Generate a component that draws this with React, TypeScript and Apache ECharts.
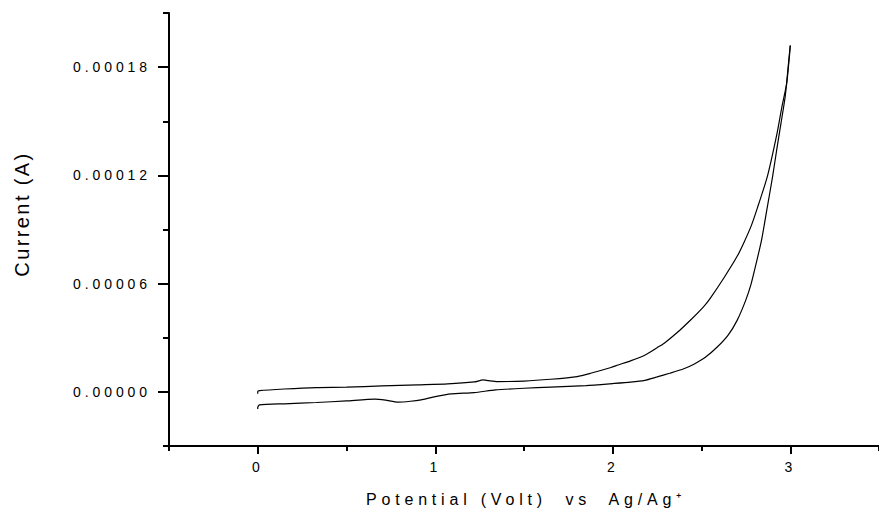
import React, { useEffect, useRef } from "react";
import * as echarts from "echarts";

// Potential (V vs Ag/Ag+) and current (A) — forward scan (lower branch)
const forwardPotential = [
  0.0, 0.0, 0.01, 0.15, 0.33, 0.5, 0.66, 0.72, 0.79, 0.86, 0.92, 1.0, 1.09, 1.22, 1.34, 1.5,
  1.65, 1.85, 2.0, 2.1, 2.18, 2.25, 2.32, 2.4, 2.46, 2.52, 2.59, 2.65, 2.7, 2.75, 2.78, 2.81,
  2.84, 2.87, 2.9, 2.925, 2.948, 2.972, 2.99, 3.0,
];
const forwardCurrent = [
  -9.5e-6, -8.5e-6, -7.2e-6, -6.6e-6, -5.9e-6, -5.0e-6, -4.0e-6, -4.6e-6, -5.7e-6, -5.2e-6,
  -4.4e-6, -2.6e-6, -1.1e-6, -0.4e-6, 1.1e-6, 2.0e-6, 2.6e-6, 3.5e-6, 4.6e-6, 5.4e-6, 6.4e-6,
  8.3e-6, 10.3e-6, 12.8e-6, 15.5e-6, 19e-6, 25e-6, 31.5e-6, 39.5e-6, 51e-6, 60e-6, 72e-6,
  85e-6, 102e-6, 119e-6, 135e-6, 149e-6, 164e-6, 182e-6, 192e-6,
];

// Reverse scan (upper branch)
const reversePotential = [
  3.0, 2.997, 2.98, 2.953, 2.925, 2.87, 2.815, 2.78, 2.74, 2.7, 2.625, 2.55, 2.51, 2.44, 2.36,
  2.29, 2.25, 2.18, 2.1, 2.03, 1.99, 1.875, 1.8, 1.65, 1.5, 1.35, 1.3, 1.27, 1.22, 1.07, 0.9,
  0.7, 0.5, 0.33, 0.15, 0.01, 0.0, 0.0,
];
const reverseCurrent = [
  192e-6, 188e-6, 171e-6, 158e-6, 143e-6, 119e-6, 102e-6, 92e-6, 83e-6, 75e-6, 63e-6, 52e-6,
  47e-6, 40e-6, 32.6e-6, 27e-6, 24.5e-6, 20.3e-6, 17.2e-6, 14.9e-6, 13.5e-6, 10.3e-6, 8.5e-6,
  7.0e-6, 6.0e-6, 5.7e-6, 6.2e-6, 6.6e-6, 5.5e-6, 4.4e-6, 3.9e-6, 3.3e-6, 2.6e-6, 2.4e-6,
  1.6e-6, 0.7e-6, 0.2e-6, -1.0e-6,
];

const xMajorTicks = [0, 1, 2, 3];
const xMinorTicks = [-0.5, 0.5, 1.5, 2.5, 3.5];
const yMajorTicks = [0, 0.00006, 0.00012, 0.00018];
const yMinorTicks = [-0.00003, 0.00003, 0.00009, 0.00015, 0.00021];

const xTitle = "Potential (Volt)  vs  Ag/Ag\u207A";
const yTitle = "Current (A)";

const FONT = "'Liberation Sans', Arial, sans-serif";

export default function App() {
  const ref = useRef<HTMLDivElement>(null);

  useEffect(() => {
    if (!ref.current) return;
    const chart = echarts.init(ref.current, undefined, { renderer: "svg" });
    const forward = forwardPotential.map((v, i) => [v, forwardCurrent[i]]);
    const reverse = reversePotential.map((v, i) => [v, reverseCurrent[i]]);
    const axisLineStyle = { color: "#000", width: 2 };

    chart.setOption({
      animation: false,
      backgroundColor: "#fff",
      grid: { left: 169, right: -4, top: 13, bottom: 65, containLabel: false },
      xAxis: [
        {
          type: "value",
          min: -0.5,
          max: 3.5,
          position: "bottom",
          axisLine: { show: true, onZero: false, lineStyle: axisLineStyle },
          axisTick: { show: true, customValues: xMajorTicks, length: 8, lineStyle: { color: "#000", width: 2 } },
          axisLabel: {
            show: true,
            customValues: xMajorTicks,
            margin: 14,
            color: "#000",
            fontSize: 14,
            fontFamily: FONT,
            formatter: (v: number) => String(Math.round(v)),
          },
          splitLine: { show: false },
        },
        {
          type: "value",
          min: -0.5,
          max: 3.5,
          position: "bottom",
          axisLine: { show: false, onZero: false },
          axisTick: { show: true, customValues: xMinorTicks, length: 5, lineStyle: { color: "#000", width: 2 } },
          axisLabel: { show: false },
          splitLine: { show: false },
        },
      ],
      yAxis: [
        {
          type: "value",
          min: -0.00003,
          max: 0.00021,
          position: "left",
          axisLine: { show: true, onZero: false, lineStyle: axisLineStyle },
          axisTick: { show: true, customValues: yMajorTicks, length: 11, lineStyle: { color: "#000", width: 2 } },
          axisLabel: {
            show: true,
            customValues: yMajorTicks,
            margin: 18,
            color: "#000",
            fontSize: 14,
            fontFamily: FONT,
            formatter: (v: number) => v.toFixed(5),
          },
          splitLine: { show: false },
        },
        {
          type: "value",
          min: -0.00003,
          max: 0.00021,
          position: "left",
          axisLine: { show: false, onZero: false },
          axisTick: { show: true, customValues: yMinorTicks, length: 6, lineStyle: { color: "#000", width: 2 } },
          axisLabel: { show: false },
          splitLine: { show: false },
        },
      ],
      graphic: [
        {
          type: "text",
          x: 526,
          y: 499,
          style: {
            text: xTitle,
            fill: "#000",
            font: `16px ${FONT}`,
            align: "center",
            verticalAlign: "middle",
          },
        },
        {
          type: "text",
          x: 22,
          y: 214,
          rotation: Math.PI / 2,
          style: {
            text: yTitle,
            fill: "#000",
            font: `20px ${FONT}`,
            align: "center",
            verticalAlign: "middle",
          },
        },
      ],
      series: [
        {
          name: "Forward scan",
          type: "line",
          xAxisIndex: 0,
          yAxisIndex: 0,
          data: forward,
          showSymbol: false,
          smooth: 0.2,
          lineStyle: { color: "#000", width: 1.2 },
        },
        {
          name: "Reverse scan",
          type: "line",
          xAxisIndex: 0,
          yAxisIndex: 0,
          data: reverse,
          showSymbol: false,
          smooth: 0.2,
          lineStyle: { color: "#000", width: 1.2 },
        },
      ],
    });
    return () => chart.dispose();
  }, []);

  return (
    <>
      <style>{`
        .cv-chart text { letter-spacing: 0.28em; white-space: pre; }
        .cv-chart text[style*="16px"] { letter-spacing: 0.3em; }
        .cv-chart text[style*="20px"] { letter-spacing: 0.12em; }
      `}</style>
      <div
        ref={ref}
        className="cv-chart"
        style={{ position: "absolute", left: 0, top: 0, width: 879, height: 511, background: "#fff" }}
      />
    </>
  );
}
